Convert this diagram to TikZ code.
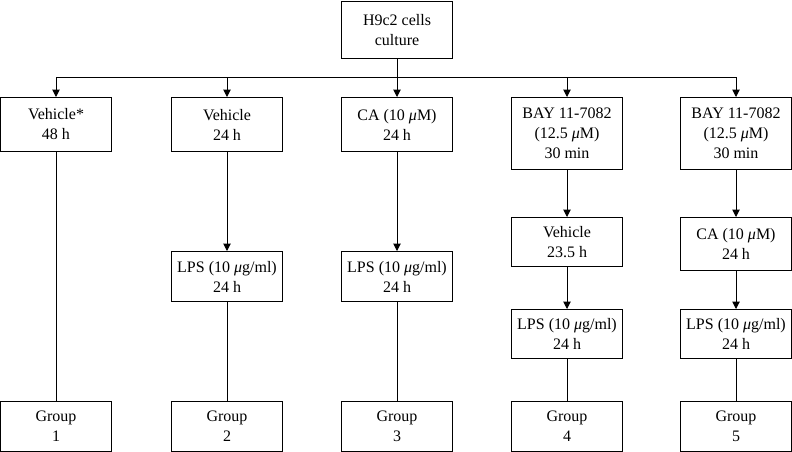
\documentclass[tikz,border=0pt]{standalone}
\usepackage{fontspec}
\setmainfont{Liberation Serif}
\usetikzlibrary{arrows.meta}
\newcommand{\um}{\textit{μ}}

\begin{document}
\begin{tikzpicture}[x=1pt, y=-1pt,
  box/.style={draw, line width=1pt, minimum width=111pt, inner sep=0pt,
    anchor=north, align=center, font=\fontsize{16}{20}\selectfont},
  link/.style={line width=1pt},
  flow/.style={link, -{Triangle[width=7.5pt, length=7.5pt]}}]
\useasboundingbox (0,0) rectangle (792,451);
% top
\node[box, minimum height=57.5pt] (cult) at (397,0.6) {H9c2 cells\\culture};
% first row
\node[box, minimum height=54pt] (veh1) at (56,97) {Vehicle*\\48 h};
\node[box, minimum height=54pt] (veh2) at (227,97) {Vehicle\\24 h};
\node[box, minimum height=54pt] (ca3) at (397,97) {CA (10 \um M)\\24 h};
\node[box, minimum height=72pt] (bay4) at (567,97) {BAY 11-7082\\(12.5 \um M)\\30 min};
\node[box, minimum height=72pt] (bay5) at (736,97) {BAY 11-7082\\(12.5 \um M)\\30 min};
% second row
\node[box, minimum height=49pt] (veh4) at (567,217) {Vehicle\\23.5 h};
\node[box, minimum height=53pt] (ca5) at (736,217) {CA (10 \um M)\\24 h};
\node[box, minimum height=50pt] (lps2) at (227,251) {LPS (10 \um g/ml)\\24 h};
\node[box, minimum height=50pt] (lps3) at (397,251) {LPS (10 \um g/ml)\\24 h};
\node[box, minimum height=49pt] (lps4) at (567,309) {LPS (10 \um g/ml)\\24 h};
\node[box, minimum height=49pt] (lps5) at (736,309) {LPS (10 \um g/ml)\\24 h};
% groups
\foreach \i/\x in {1/56, 2/227, 3/397, 4/567, 5/736}
  \node[box, minimum height=49.5pt] (grp\i) at (\x,401) {Group\\\i};

% connectors
\coordinate (busL) at (56,77);
\coordinate (busR) at (736,77);
\draw[link] (busL) -- (busR);
\draw[flow] (cult) -- (ca3);
\foreach \n in {veh1, veh2, bay4, bay5}
  \draw[flow] (\n.north |- busL) -- (\n);
\draw[link] (veh1) -- (grp1);
\draw[flow] (veh2) -- (lps2);
\draw[link] (lps2) -- (grp2);
\draw[flow] (ca3) -- (lps3);
\draw[link] (lps3) -- (grp3);
\draw[flow] (bay4) -- (veh4);
\draw[flow] (veh4) -- (lps4);
\draw[link] (lps4) -- (grp4);
\draw[flow] (bay5) -- (ca5);
\draw[flow] (ca5) -- (lps5);
\draw[link] (lps5) -- (grp5);
\end{tikzpicture}
\end{document}
